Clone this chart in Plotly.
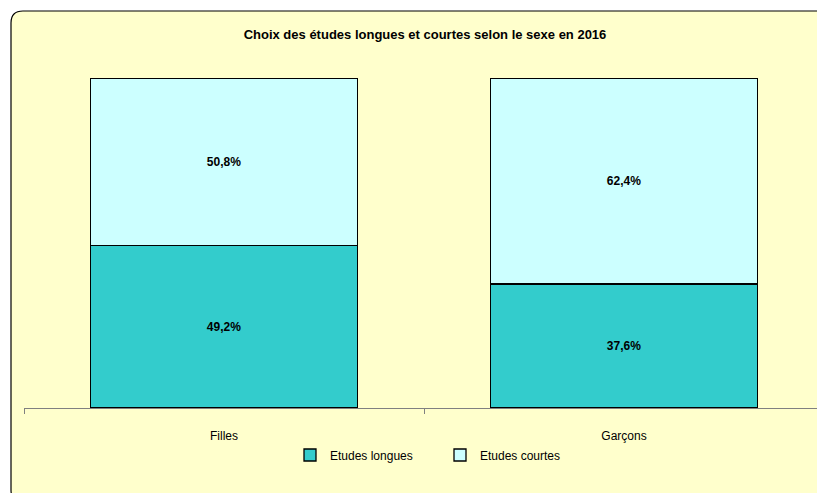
import plotly.graph_objects as go

categories = ["Filles", "Garçons"]
longues = [49.2, 37.6]
courtes = [50.8, 62.4]
series_names = ["Etudes longues", "Etudes courtes"]
title_text = "Choix des études longues et courtes selon le sexe en 2016"

def fmt(v):
    return f"{v:.1f}".replace(".", ",") + "%"

fig = go.Figure()
fig.add_trace(go.Bar(
    x=categories, y=longues, name=series_names[0],
    marker=dict(color="#33CCCC", line=dict(color="#000000", width=1.3)),
    text=[fmt(v) for v in longues], textposition="inside", insidetextanchor="middle",
    textfont=dict(family="Liberation Sans, Arial", size=12, color="#000000"),
    texttemplate="<b>%{text}</b>", hoverinfo="skip",
))
fig.add_trace(go.Bar(
    x=categories, y=courtes, name=series_names[1],
    marker=dict(color="#CCFFFF", line=dict(color="#000000", width=1.3)),
    text=[fmt(v) for v in courtes], textposition="inside", insidetextanchor="middle",
    textfont=dict(family="Liberation Sans, Arial", size=12, color="#000000"),
    texttemplate="<b>%{text}</b>", hoverinfo="skip",
))

OFF = 8  # page body margin
W, H = 825 - OFF, 493 - OFF
L, T = 24 - OFF, 78 - OFF
R = W - (824 - OFF)
B = H - (408 - OFF)
pw, ph = W - L - R, H - T - B

def px(x):
    return (x - OFF - L) / pw

def py(y):
    return (H - B - (y - OFF)) / ph

x0, x1 = px(11), px(840)
yt, yb = py(11), py(502)
rx, ry = 12 / pw, 12 / ph
path = (f"M {x1},{yb} L {x0 + rx},{yb} Q {x0},{yb} {x0},{yb + ry} "
        f"L {x0},{yt - ry} Q {x0},{yt} {x0 + rx},{yt} "
        f"L {x1},{yt} Z")

fig.update_layout(
    width=W, height=H,
    barmode="stack", bargap=0.333,
    margin=dict(l=L, r=R, t=T, b=B),
    paper_bgcolor="#FFFFFF", plot_bgcolor="rgba(0,0,0,0)",
    font=dict(family="Liberation Sans, Arial", size=12, color="#000000"),
    title=dict(text=f"<b>{title_text}</b>", xref="paper", x=px(425), xanchor="center",
               y=1 - (34 - OFF) / H, yanchor="middle", font=dict(size=13)),
    shapes=[dict(type="path", path=path, xref="paper", yref="paper",
                 fillcolor="#FFFFCC", line=dict(color="#000000", width=1.2),
                 layer="below")],
    legend=dict(orientation="h", x=px(290), xanchor="left", y=py(455), yanchor="middle",
                bgcolor="rgba(0,0,0,0)", font=dict(size=12), traceorder="normal",
                itemwidth=30, entrywidth=105, entrywidthmode="pixels"),
    showlegend=True,
)
fig.update_xaxes(showline=True, linecolor="#808080", linewidth=1.3,
                 ticks="outside", tickson="boundaries", ticklen=5, tickcolor="#808080",
                 ticklabelstandoff=16, showgrid=False, zeroline=False)
fig.update_yaxes(range=[0, 100], visible=False, showgrid=False)

fig.write_html("out.html")
